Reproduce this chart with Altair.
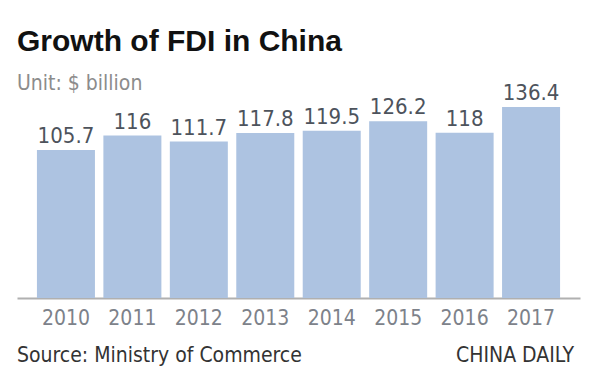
import altair as alt
import pandas as pd

years = ["2010", "2011", "2012", "2013", "2014", "2015", "2016", "2017"]
fdi = [105.7, 116, 111.7, 117.8, 119.5, 126.2, 118, 136.4]
labels = ["105.7", "116", "111.7", "117.8", "119.5", "126.2", "118", "136.4"]

df = pd.DataFrame({"year": years, "fdi": fdi, "label": labels})

W, H = 563, 210
NARROW = "DejaVu Sans Condensed"

x = alt.X("year:N", sort=years,
          scale=alt.Scale(paddingInner=0.127, paddingOuter=0.30),
          axis=alt.Axis(title=None, labelAngle=0, ticks=False, labelPadding=9,
                        labelFont=NARROW, labelFontSize=21, labelColor="#7d828a",
                        domainColor="#b0b0b0", domainWidth=2))
y = alt.Y("fdi:Q", scale=alt.Scale(domain=[0, 150], nice=False), axis=None)

bars = alt.Chart(df).mark_bar(color="#adc3e1").encode(x=x, y=y)
text = alt.Chart(df).mark_text(font=NARROW, fontSize=22, color="#4d535c",
                               baseline="bottom", dy=-2).encode(
    x=alt.X("year:N", sort=years), y="fdi:Q", text="label:N")

src = alt.Chart(pd.DataFrame({"t": ["Source: Ministry of Commerce"]})).mark_text(
    font=NARROW, fontSize=21, color="#333333", align="left", baseline="alphabetic"
).encode(x=alt.value(0), y=alt.value(H + 64), text="t:N")
brand = alt.Chart(pd.DataFrame({"t": ["CHINA DAILY"]})).mark_text(
    font=NARROW, fontSize=21, color="#333333", align="right", baseline="alphabetic"
).encode(x=alt.value(557), y=alt.value(H + 64), text="t:N")

chart = alt.layer(bars, text, src, brand).properties(
    width=W, height=H,
    title=alt.Title("Growth of FDI in China", subtitle="Unit: $ billion",
                    anchor="start", frame="group",
                    font="Liberation Sans", fontSize=30, fontWeight="bold", color="#111111",
                    subtitleFont=NARROW, subtitleFontSize=21, subtitleColor="#8c8c8c",
                    subtitlePadding=16, offset=-12),
    padding={"left": 9, "top": 80, "right": 18, "bottom": 77},
    autosize=alt.AutoSizeParams(type="none"),
).configure_view(stroke=None)

chart.save("out.html", embed_options={"renderer": "svg", "actions": False})
